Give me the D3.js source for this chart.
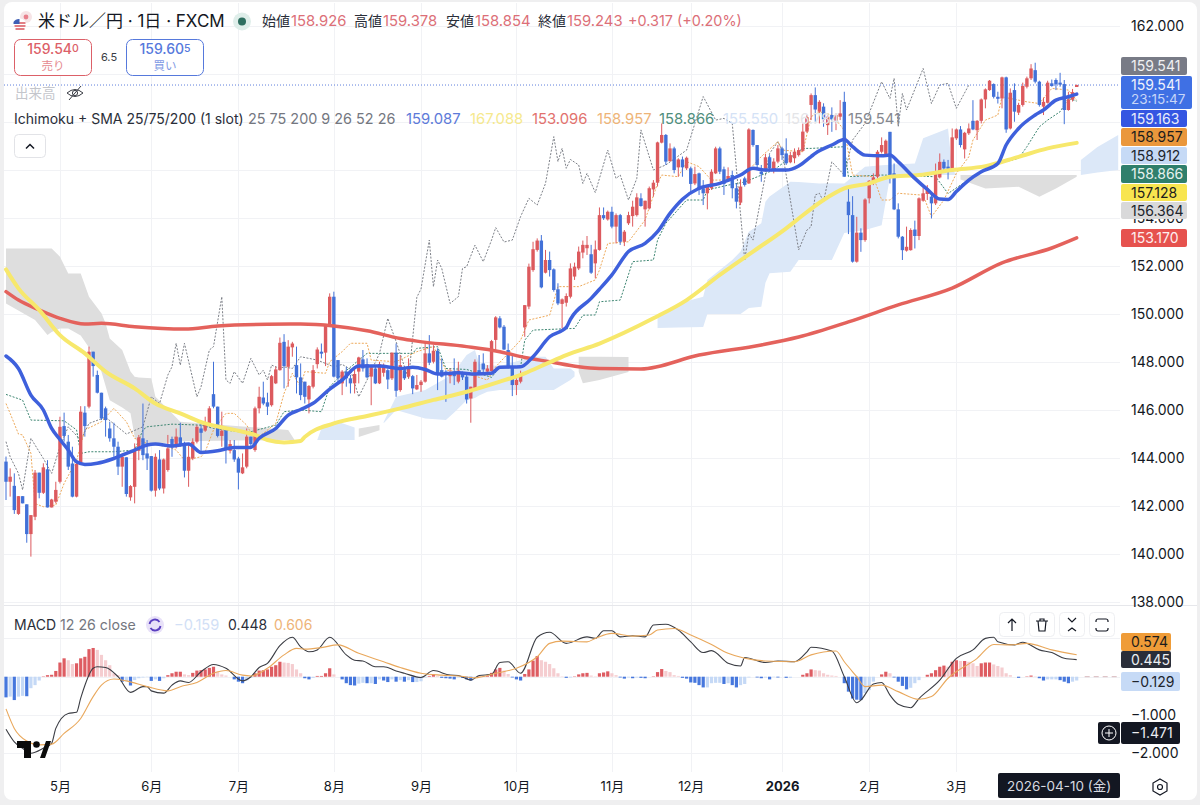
<!DOCTYPE html>
<html>
<head>
<meta charset="utf-8">
<script src="https://cdn.jsdelivr.net/npm/d3@7"></script>
<style>
  html, body { margin: 0; padding: 0; background: #efeff0; }
  svg { display: block; }
  text { font-family: Inter, "Noto Sans CJK JP", sans-serif; }
  .domain, .tick line { display: none; }
</style>
</head>
<body>
<div id="chart"></div>
<script>
// daily candles (bar 0 = mid April 2025)
const opens = [
  143.85,143.01,142.84,141.67,142.41,142.07,140.83,141.55,143.39,142.55,
  143.53,141.94,142.18,143.01,145.33,144.68,143.77,142.39,143.8,145.89,
  146.14,148.43,147.46,146.72,146.07,145.23,144.82,144.47,143.64,144.03,
  142.36,142.8,144.3,144.82,144.19,144.08,142.64,143.94,142.73,143.5,
  144.79,144.47,144.86,144.61,143.47,143.98,144.68,145.23,145.14,145.37,
  146.66,146.14,144.92,145.19,144.3,144.33,143.98,143.36,143.64,144.89,
  144.33,146.07,146.52,146.32,146.2,147.11,147.66,148.84,147.8,148.61,
  147.87,147.36,147.18,146.44,146.97,147.91,148.43,148.39,149.54,150.72,
  148.08,147.11,147.6,147.32,147.11,147.6,148.11,147.91,147.39,147.73,
  147.11,147.55,147.66,147.32,148.39,146.83,147.66,147.39,147.41,146.86,
  147.04,147.18,148.36,148.01,148.47,147.66,147.6,147.41,147.6,147.18,
  147.55,147.39,146.48,146.9,147.66,147.94,147.6,147.62,148.92,149.82,
  149.47,148.5,147.83,147.04,147.18,149.44,150.31,151.83,152.67,153.06,
  151.72,152.25,151.86,151.03,150.42,150.47,150.72,151.56,151.9,152.56,
  152.74,152.49,152.11,152.67,154.12,153.94,154.26,153.64,154.12,153.01,
  153.78,154.08,154.12,154.82,154.36,154.4,155.19,155.47,157.14,157.46,
  156.37,156.9,156.11,156.44,156.07,156.07,155.44,155.86,155.24,155.03,
  155.24,155.86,156.9,156.03,155.58,155.79,155.24,154.64,155.65,155.44,
  157.67,157.04,155.93,155.97,156.53,156,156.35,156.9,156.69,156.32,
  156.49,156.62,156.8,157.6,158.71,159.12,158.43,158.64,157.87,158.29,
  158.05,158.22,158.84,154.68,154.12,152.18,153.39,153.08,154.82,155.55,
  155.72,156.76,156.67,157.59,155.86,154.36,153.22,152.64,152.66,153.52,
  153.25,154.72,155,154.89,154.61,155.69,156.34,156.14,155.97,157.32,
  157.69,156.86,157.53,158.05,157.66,158.05,158.94,159.33,159.58,159.05,
  158.98,159.86,157.73,159.33,158.39,158.71,159.47,159.82,160.16,159.68,
  158.64,158.8,159.61,159.75,159.64,159.58,158.5,158.926,159.54
];
const highs = [
  144.06,143.57,143.36,142.41,142.41,142.07,141.62,143.5,143.39,143.78,
  143.91,142.3,143.01,145.72,145.89,144.96,144.47,143.91,146.16,146.16,
  148.64,148.43,147.64,146.72,146.14,145.51,145.47,144.68,144.19,144.03,
  142.87,144.61,144.96,146.27,144.75,144.08,144.19,144.33,143.98,144.96,
  144.89,145.23,145.47,144.68,144.58,144.82,145.37,145.41,145.72,146.16,
  148.01,146.14,145.93,145.23,144.75,144.75,144.05,144.19,145.23,144.89,
  146.14,146.97,147.18,146.72,147.46,147.8,149.02,149.16,148.91,148.84,
  148.64,147.94,147.18,147.04,147.87,148.61,148.77,149.58,150.86,150.93,
  148.08,147.66,147.8,147.46,147.78,148.22,148.5,148.15,147.87,147.8,
  148.01,147.94,147.73,148.39,148.77,148.29,147.8,148.15,147.46,147.46,
  147.25,148.84,149.12,148.7,148.57,148.15,147.66,147.73,148.15,148.01,
  147.6,147.46,146.97,148.11,148.29,148.36,147.87,148.92,149.91,149.91,
  149.54,148.77,148.29,147.46,147.64,150.37,152.1,153.01,153.15,153.29,
  152.67,152.6,151.9,151.28,150.65,150.86,152.11,152.14,152.81,153.06,
  153.25,152.88,153.06,154.44,154.44,154.31,154.47,154.19,154.17,153.5,
  154.26,154.72,155.03,155.03,154.72,155.31,155.58,157.18,157.94,157.5,
  157.11,156.97,156.49,156.56,156.56,156.14,156.14,155.89,155.58,155.38,
  156.03,156.97,156.97,156.14,156.11,155.97,155.44,155.61,155.72,157.74,
  157.69,157.04,156.21,156.67,156.62,156.49,157.04,156.97,157.32,156.76,
  156.9,156.94,157.94,158.3,159.19,159.44,158.91,158.78,158.29,158.61,
  158.36,158.91,159.26,155.3,154.91,154.05,153.57,154.82,155.58,155.86,
  156.83,157.36,157.27,157.59,156.27,154.61,153.25,153.64,153.57,153.89,
  154.86,155.27,155.37,154.96,156.27,156.69,156.44,156.42,157.73,157.73,
  157.83,157.59,157.94,158.91,158.08,158.98,159.4,159.75,159.61,159.26,
  159.89,159.89,159.4,159.61,158.8,159.64,159.89,160.41,160.47,159.72,
  159.02,159.72,159.77,159.82,160.05,159.75,159.26,159.378,159.56
];
const lows = [
  142.25,142.39,141.67,141.63,142.11,140.47,139.89,141.41,142.32,142.5,
  141.94,141.94,142.11,142.94,144.68,143.5,142.36,142.36,143.75,144.89,
  146.07,147.39,146.69,145.58,144.89,144.68,144.05,143.29,142.8,142.39,
  142.22,142.11,143.91,143.91,143.5,142.6,142.39,142.66,142.52,143.43,
  144.05,144.4,144.47,143.19,142.8,143.91,144.61,144.26,145.09,145.3,
  146.07,144.86,144.47,143.77,144.19,143.84,142.69,143.33,143.57,144.4,
  144.26,145.86,146.2,145.79,146.14,147.08,147.64,146.9,146.97,148.22,
  146.69,146.41,146.27,145.86,146.9,147.73,148.15,147.83,149.47,147.36,
  147.11,146.62,146.97,146.69,146.69,147.11,147.6,147.32,146.2,147.08,
  147.08,147.39,146.87,147.25,146.55,146.76,147.25,147.32,146.66,146.83,
  146.76,147.14,147.87,147.94,146.83,147.36,146.34,147.11,147.04,147.11,
  147.25,146.27,145.47,146.83,147.5,147.5,147.53,147.6,148.5,149.4,
  148.5,147.73,146.58,146.62,147.11,149.05,150.2,151.76,152.6,151.07,
  151.69,151.56,150.93,150.37,149.4,150.31,150.65,151.42,151.83,152.32,
  152.46,151.67,151.49,152.64,153.92,153.89,153.57,152.94,152.88,152.83,
  153.71,153.64,154.06,154.47,153.64,154.36,154.89,155.31,157.11,156.21,
  156.35,155.86,155.72,155.72,156,155.03,155.37,154.96,154.54,154.36,
  155.17,155.83,155.83,154.96,155.51,154.82,154.4,154.54,155.31,155.42,
  156.97,156.07,155.51,155.93,155.97,155.86,156.28,156.42,156.21,156.28,
  156.28,156.56,156.76,157.55,158.08,158.01,157.94,157.8,157.46,157.59,
  157.66,158.08,155.72,153.33,152.14,152.14,152.59,153.01,154.61,155.37,
  155.65,156.69,156.62,155.44,154.33,153.15,152.25,152.6,152.64,152.73,
  153.08,154.68,154.75,153.98,154.54,155.65,156,155.61,155.93,157.25,
  156.94,156.48,157.46,157.66,157.25,157.94,158.57,159.3,158.98,158.77,
  158.57,157.55,157.69,158.01,158.29,158.64,159.4,159.75,159.61,158.64,
  158.29,158.77,159.47,159.33,159.47,157.91,158.47,158.854,159.52
];
const closes = [
  143.01,143.22,141.83,142.41,142.11,140.83,141.62,143.39,142.55,143.61,
  141.94,142.27,142.67,145.3,144.92,143.64,142.39,143.75,145.93,145.33,
  148.43,147.83,146.72,145.65,145.58,144.82,144.47,143.64,144.05,142.5,
  142.83,144.33,144.86,144.12,143.98,142.64,144.05,142.73,143.94,144.4,
  144.44,144.89,144.58,143.47,144.05,144.68,145.3,145.05,145.47,146.07,
  146.14,144.92,145.14,144.36,144.58,143.94,143.39,143.61,144.89,144.58,
  146.07,146.55,146.27,146.14,147.41,147.69,148.8,147.83,148.64,148.77,
  147.36,146.62,146.55,147,147.66,148.52,148.36,149.58,150.72,147.39,
  147.32,147.6,147.32,147.11,147.5,148.19,147.73,147.36,147.78,147.11,
  147.91,147.8,147.27,148.39,146.8,147.87,147.32,147.8,146.9,147.04,
  147.18,148.36,147.97,148.47,147.53,147.39,147.46,147.5,147.41,147.64,
  147.36,146.44,146.97,148.01,147.53,147.69,147.73,148.87,149.86,149.44,
  148.52,147.83,147.04,147.25,147.46,150.37,151.97,152.7,153.06,151.11,
  152.25,151.83,151,150.44,150.61,150.75,151.9,151.97,152.6,152.88,
  152.88,151.72,152.69,154.12,153.99,154.26,153.64,154.12,153.01,153.43,
  154.12,154.47,154.86,154.5,154.72,155.24,155.47,157.15,157.46,156.35,
  156.9,156,156.44,156.11,156.51,155.42,155.83,155.17,155.03,155.31,
  155.93,156.9,155.93,155.42,155.75,155.24,154.68,155.31,155.38,157.69,
  157.04,156.21,155.83,156.53,156.07,156.35,156.9,156.62,156.28,156.62,
  156.76,156.83,157.6,158.2,159.12,158.52,158.84,158.11,158.22,158.11,
  158.29,158.36,155.72,154.12,152.18,153.39,153.08,154.77,155.55,155.69,
  156.76,157.04,157.22,155.79,154.36,153.22,152.66,152.8,153.5,153.25,
  154.82,155.03,155.23,154.61,155.86,156.34,156.07,156.07,157.36,157.69,
  157.04,157.55,157.73,157.69,158.05,158.94,159.36,159.72,159.05,158.98,
  159.86,157.69,159.22,158.43,158.71,159.5,159.82,160.23,159.68,158.71,
  158.84,159.64,159.5,159.57,159.58,158.5,158.94,159.243,159.541
];

// SMA lines, read at the bars where they bend
const sma25Bars = [0,3,6,9,11,13,15,17,19,22,26,31,34,36,40,44,47,51,55,59,61,65,68,71,74,78,81,85,90,95,98,101,104,109,113,117,119,124,127,131,135,136,141,143,146,150,154,157,160,163,167,172,177,180,183,188,191,194,195,199,202,204,207,211,213,215,219,222,225,227,229,232,235,239,241,244,248,250,253,256,258];
const sma25 = [148.25,147.73,146.62,146,145.23,144.77,144.33,143.84,143.73,143.78,143.98,144.33,144.54,144.58,144.5,144.58,144.23,144.3,144.44,144.44,144.82,145.23,145.79,146.02,146.28,146.87,147.25,147.83,147.83,147.73,147.78,147.69,147.5,147.55,147.5,147.53,147.78,147.8,148.22,149.05,149.44,149.78,150.65,151.03,151.63,152.6,152.94,153.43,154.19,154.78,155.24,155.44,155.79,156.07,156,156,156.17,156.56,156.69,157.04,157.27,156.97,156.62,156.59,156.62,156.34,155.65,155.19,154.79,154.77,155.1,155.58,155.93,156.27,157.04,157.73,158.29,158.5,158.91,159.05,159.16];
const sma75Bars = [0,3,8,13,19,24,31,36,42,48,55,60,63,67,71,72,79,87,95,103,111,119,125,130,135,143,156,164,172,180,188,191,197,202,208,213,220,228,236,244,251,258];
const sma75 = [151.86,151.07,150.17,149.12,148.36,147.6,146.9,146.27,145.86,145.44,145.17,144.96,144.75,144.65,144.71,144.88,145.44,145.75,146.07,146.42,146.76,147.18,147.53,147.91,148.29,148.77,149.82,150.58,151.63,152.6,153.57,153.98,154.75,155.23,155.44,155.72,155.79,156,156.16,156.55,156.9,157.13];
const sma200Bars = [0,3,8,13,19,23,31,43,51,63,71,79,87,95,99,111,119,125,131,138,143,153,167,182,191,203,215,228,240,252,258];
const sma200 = [150.93,150.58,150.17,149.82,149.58,149.61,149.47,149.37,149.5,149.57,149.58,149.5,149.3,148.98,148.87,148.64,148.43,148.19,148.01,147.8,147.73,147.71,148.29,148.71,149.04,149.67,150.38,151.08,152.13,152.75,153.17];

// Ichimoku thin lines
const tenkanBars = [0,1,3,4,6,7,9,12,14,17,19,23,26,29,31,34,39,41,43,47,48,50,53,55,58,60,65,67,69,71,72,77,78,81,83,87,88,94,99,103,106,111,116,118,124,126,131,133,138,142,143,145,150,154,157,158,162,164,167,170,175,179,182,186,187,192,194,196,199,202,204,209,211,213,215,221,223,226,229,232,233,236,239,240,246,249,252,256,258];
const tenkan = [146.27,145.86,145,144.96,144.2,142.1,141.97,142.04,142.94,143.9,145.17,145.51,146.07,145.51,144.82,144.61,144.47,144.33,143.91,144.05,144.26,145.17,145.86,145.86,145.37,144.75,145.44,146.69,147.53,146.97,147.6,147.53,148.01,148.43,148.78,148.78,148.08,148.01,148.43,148.64,147.67,147.53,147.25,147.8,148.91,149.75,149.95,151.14,151.14,151.42,151.83,152.94,153.01,153.92,155.44,155.79,155.72,156.35,156.14,155.58,155.58,156,156.56,157.18,156.83,156.76,158.22,158.43,158.29,157.66,155.79,155.72,154.75,154.75,155.03,154.95,154.05,154.75,155.86,156.55,157.25,158.08,158.29,159.05,158.84,158.77,159.4,159.33,158.91];
const kijunBars = [0,4,6,14,17,18,20,26,31,33,34,40,47,50,58,65,67,71,76,78,81,87,98,99,104,106,111,117,119,124,125,127,137,139,142,143,148,151,156,157,159,164,168,169,174,178,185,192,194,202,203,211,224,227,233,239,244,246,249,251,254,256,258];
const kijun = [146.65,146.41,145.58,145.55,145.17,144.19,144.26,144.26,144.33,145.17,145.3,145.41,145.37,145.23,145.05,145.37,145.93,146,145.93,146.97,147.5,148.36,148.36,148.57,148.64,147.73,147.69,147.36,147.8,147.8,148.91,149.33,149.4,149.95,149.96,150.51,150.58,152.18,152.25,153.08,153.78,154.75,154.75,155.17,155.37,155.5,156,156.9,156.9,156.97,155.72,155.79,155.72,155.02,155.72,156.27,156.48,156.97,157.8,158.08,158.43,158.98,158.87];
const chikouBars = [0,1,3,4,6,9,11,13,15,18,20,24,29,33,35,37,39,40,41,42,43,46,47,49,50,52,53,54,55,57,59,61,62,63,64,66,67,69,71,75,79,81,83,85,87,90,92,94,97,99,100,102,103,104,105,107,109,110,111,113,115,117,118,120,122,124,126,128,130,132,133,134,135,136,138,139,140,142,145,147,148,150,152,153,156,159,164,166,168,171,173,175,178,179,180,184,186,187,191,193,194,195,196,197,199,202,204,207,211,213,214,215,216,217,221,223,225,227,229,232];
const chikou = [144.68,144.05,143.36,142.67,144.82,143.98,143.36,144.47,145.3,144.75,145.44,145.7,145,145.3,146.55,146.27,147.46,147.8,148.78,147.87,148.78,146.55,146.97,148.5,148.64,150.72,147.25,147.11,147.6,147.11,148.15,147.46,147.66,147.25,147.87,147.73,147.8,147.73,148.22,148.08,147.8,147.9,147.7,146.55,147.25,148.36,149.82,148.85,147.3,150.7,151.04,153.08,151.14,152.25,151.9,150.44,150.72,151.9,151.97,152.87,152.18,153.08,153.6,153,153.08,154.06,154.82,154.54,155.44,157.39,156.35,156.9,156.07,156.44,156.21,155.44,155.86,155.06,156.83,155.65,155.79,154.75,155.65,157.67,156,156.21,156.83,157.94,159.06,158.08,158.15,157.94,152.25,153.36,153.08,156.69,157.18,156.83,152.67,153.5,153.64,154.96,155.03,154.68,156.34,155.79,157.25,157.94,159.68,158.98,159.82,157.8,159.19,158.5,160.23,158.77,159.54,159.61,158.57,159.54];

// cloud, shifted 26 bars ahead, so it runs past the last candle
const kumoBars = [0,7,10,11,13,15,18,20,23,24,25,28,30,31,32,35,36,40,42,68,70,75,76,80,84,85,90,91,94,101,106,108,111,113,114,116,119,127,130,132,136,137,138,139,143,150,157,162,168,169,175,177,179,182,183,184,189,191,196,199,202,207,211,213,219,221,227,228,229,230,236,244,249,253,258,259,263,268];
const senkouA = [150.44,149.75,149.12,149.25,149.4,149.4,149.1,148.6,147.59,147,146.41,146.1,145.86,144.89,144.54,144.6,144.6,144.65,144.7,144.75,144.61,144.75,145.23,145.51,145.27,144.88,145.16,145.5,146.55,146.83,147.32,147.59,148.29,148.5,147.94,147.87,147.83,148.22,148.22,147.73,147.73,147.59,147.59,147.11,147.25,147.58,149.89,150.44,150.72,151.42,152.25,152.6,153.43,153.78,154.68,154.9,155.51,155.5,155.44,155.45,155.44,156.14,156.2,156.22,156.27,157.32,157.73,156,155.82,155.6,155.23,155.3,154.89,155.23,155.72,156.42,156.96,157.46];
const senkouB = [152.73,152.73,152.73,152.73,152.39,151.69,151.69,150.72,150.03,149.61,148.98,148.5,147.6,147.39,147.35,147.32,146.55,145.86,145.51,145.17,144.62,144.75,144.75,144.75,144.75,145.23,145.37,145.45,146,145.65,145.58,145.9,146.41,146.5,146.6,146.76,146.83,146.83,146.83,146.83,147.25,147.4,148.22,148.22,148.22,148.21,149.42,149.44,149.46,150,150,150,150.25,150.3,151.3,151.7,151.76,152.25,152.25,152.25,153.37,153.5,153.7,155.72,155.79,155.79,155.79,155.79,155.79,155.79,155.79,155.79,155.79,155.79,155.79,155.79,155.9,156];

// MACD pane
const macdHist = [
  -0.54,-0.52,-0.61,-0.52,-0.5,-0.51,-0.3,-0.22,-0.1,0.01,
  0.04,0.05,0.15,0.37,0.48,0.43,0.33,0.35,0.48,0.52,
  0.72,0.75,0.7,0.57,0.43,0.3,0.09,0.04,-0.13,-0.12,
  -0.23,-0.09,-0.04,-0.02,-0.01,-0.11,-0.07,-0.11,-0.04,0.04,
  0.09,0.13,0.13,0.06,0.04,0.1,0.16,0.17,0.19,0.23,
  0.26,0.13,0.06,0.03,0,-0.07,-0.13,-0.17,-0.1,-0.03,
  0.09,0.16,0.17,0.19,0.26,0.3,0.39,0.37,0.36,0.33,
  0.19,0.09,-0.04,-0.07,-0.03,0.02,0.02,0.09,0.22,0.06,
  0,-0.07,-0.17,-0.22,-0.23,-0.18,-0.16,-0.17,-0.17,-0.19,
  -0.07,-0.1,-0.14,-0.07,-0.13,-0.09,-0.13,-0.09,-0.14,-0.14,
  -0.12,-0.02,0.02,0.06,0.02,-0.03,-0.04,-0.05,-0.07,-0.02,
  -0.03,-0.07,-0.1,-0.02,0.01,0.01,0.02,0.1,0.19,0.23,
  0.16,0.07,-0.02,-0.07,-0.1,0.07,0.19,0.42,0.54,0.43,
  0.39,0.33,0.22,0.09,0.01,-0.03,-0.02,0.01,0.06,0.09,
  0.1,0.03,0.01,0.09,0.11,0.14,0.09,0.04,-0.02,-0.05,
  -0.02,-0.04,-0.02,-0.03,-0.04,0,0.01,0.12,0.2,0.15,
  0.12,0.04,0.02,-0.03,-0.05,-0.15,-0.16,-0.22,-0.28,-0.28,
  -0.17,-0.16,-0.16,-0.19,-0.17,-0.22,-0.28,-0.22,-0.19,-0.02,
  0,-0.02,-0.04,-0.02,-0.07,-0.01,-0.02,0,-0.03,-0.03,
  0,0,0.05,0.09,0.19,0.17,0.16,0.09,0.05,0.03,
  0.02,0,-0.17,-0.39,-0.57,-0.6,-0.61,-0.43,-0.35,-0.13,
  0,0.06,0.13,0.09,-0.02,-0.13,-0.24,-0.33,-0.29,-0.17,
  -0.09,0,0.05,0.09,0.17,0.26,0.29,0.26,0.39,0.43,
  0.41,0.41,0.39,0.35,0.28,0.35,0.37,0.37,0.32,0.28,
  0.24,0.09,0.04,0,-0.03,0,0.01,0.03,0.01,-0.04,
  -0.1,-0.07,-0.07,-0.07,-0.09,-0.13,-0.17,-0.13,-0.1
];
const macdBars = [0,2,4,6,9,11,12,15,17,18,21,22,24,27,30,33,34,35,38,40,42,44,47,50,53,57,59,61,63,66,69,71,73,75,78,82,84,86,89,91,94,96,100,103,107,109,112,114,117,119,121,124,128,131,135,140,142,144,146,148,151,154,156,159,162,165,168,170,174,177,178,183,186,190,193,194,199,202,205,206,209,211,213,215,218,220,225,229,233,236,238,239,243,245,249,252,255,258];
const macdLine = [-1.37,-1.7,-1.87,-2,-1.87,-1.74,-1.35,-0.96,-0.93,-0.56,0.22,0.26,0.24,0,-0.41,-0.26,-0.26,-0.37,-0.43,-0.22,-0.11,-0.15,0.13,0.32,0.22,-0.11,0,0.24,0.35,0.81,1.03,0.78,0.65,0.7,1.03,0.57,0.43,0.41,0.26,0.26,0.15,0.09,-0.02,0.16,0.04,0.03,-0.09,0.03,0.06,0.37,0.39,0.09,1.03,1.16,0.87,1.04,1,1.2,1.2,1.04,1.07,1.04,1.35,1.37,1.22,0.91,0.63,0.68,0.35,0.28,0.5,0.37,0.41,0.39,0.65,0.77,0.67,0,-0.68,-0.61,-0.19,-0.15,-0.48,-0.72,-0.81,-0.57,-0.09,0.48,0.7,1,1.03,0.91,0.83,0.9,0.7,0.63,0.48,0.445];
const signalBars = [0,2,5,8,11,14,18,21,23,26,29,34,39,42,46,50,53,57,59,63,67,70,72,76,80,85,91,95,100,105,109,113,118,123,128,131,134,140,142,146,151,155,157,161,165,170,174,178,183,190,194,200,202,205,207,211,215,220,223,227,234,238,242,246,252,258];
const signalLine = [-0.84,-1.35,-1.68,-1.78,-1.76,-1.48,-1.09,-0.52,-0.22,-0.06,-0.11,-0.26,-0.37,-0.26,-0.15,0.09,0.16,0.04,0.02,0.22,0.57,0.74,0.72,0.76,0.83,0.61,0.39,0.24,0.09,0.04,0.02,-0.03,0.09,0.22,0.52,0.87,0.93,0.91,1,1.13,1.06,1.09,1.22,1.26,1.09,0.84,0.61,0.48,0.41,0.39,0.57,0.67,0.39,0,-0.26,-0.22,-0.39,-0.59,-0.52,-0.04,0.48,0.84,0.83,0.87,0.7,0.574];

// axis labels, 156 to 160 are covered by the tags in the picture
const gridTicks = [162,160,158,156,154,152,150,148,146,144,142,140,138];
const priceTicks = [162,154,152,150,148,146,144,142,140,138];
const macdTicks = [-1,-2];
const monthBars = [13,35,56,79,100,123,146,165,187,208,229];
const monthLabels = ["5月","6月","7月","8月","9月","10月","11月","12月","2026","2月","3月"];

// header and legend texts
const ohlcNames = ["始値","高値","安値","終値"];
const ohlcValues = ["158.926","159.378","158.854","159.243"];
const legendValues = ["159.087","167.088","153.096","158.957","158.866","155.550","156.784","159.541"];

const width = 1200, height = 805;
const chartLeft = 4, chartRight = 1120, paneBottom = 605, timeTop = 772;

const svg = d3.select("#chart").append("svg").attr("width", width).attr("height", height);

const x = d3.scaleLinear().domain([0, 258]).range([6, 1076.7]);
const y = d3.scaleLinear().domain([138, 162]).range([602, 26]);
const yMacd = d3.scaleLinear().domain([-2, 1]).range([753.3, 638.4]);

svg.append("rect").attr("x", chartLeft).attr("y", 2).attr("width", 1193).attr("height", 798).attr("rx", 8).attr("fill", "#fff");

// grid
const gridColor = "#f1f2f5";
const grid = svg.append("g").attr("stroke", gridColor).attr("stroke-width", 1);
grid.selectAll(".v").data(monthBars).join("line")
  .attr("x1", d => Math.round(x(d)) + 0.5).attr("x2", d => Math.round(x(d)) + 0.5)
  .attr("y1", 3).attr("y2", timeTop);
grid.selectAll(".h").data(gridTicks).join("line")
  .attr("x1", chartLeft).attr("x2", chartRight)
  .attr("y1", d => Math.round(y(d)) + 0.5).attr("y2", d => Math.round(y(d)) + 0.5);
grid.selectAll(".m").data([1, 0, -1, -2]).join("line")
  .attr("x1", chartLeft).attr("x2", chartRight)
  .attr("y1", d => Math.round(yMacd(d)) + 0.5).attr("y2", d => Math.round(yMacd(d)) + 0.5);
svg.append("line").attr("x1", chartLeft).attr("x2", 1197).attr("y1", paneBottom + 0.5).attr("y2", paneBottom + 0.5)
  .attr("stroke", "#e6e7eb");

// cloud: blue where A is above B, grey where it is below
const kumo = kumoBars.map((b, i) => ({ bar: b, a: senkouA[i], b2: senkouB[i] }));
const cloudArea = (keep) => d3.area()
  .defined(keep)
  .x(d => x(d.bar)).y0(d => y(d.a)).y1(d => y(d.b2));
svg.append("path").attr("d", cloudArea(d => d.a >= d.b2)(kumo)).attr("fill", "#dce8f8");
svg.append("path").attr("d", cloudArea(d => d.a < d.b2)(kumo)).attr("fill", "#dedede");

// thin ichimoku lines
const thinLine = (bars, vals, color, dash) => {
  const line = d3.line().x(d => x(bars[d])).y(d => y(vals[d]));
  svg.append("path").attr("d", line(d3.range(bars.length)))
    .attr("fill", "none").attr("stroke", color).attr("stroke-width", 1).attr("stroke-dasharray", dash);
};
thinLine(chikouBars, chikou, "#7c7f87", "2 1.5");
thinLine(kijunBars, kijun, "#3e8672", "2 1.5");
thinLine(tenkanBars, tenkan, "#eda95a", "2 1.5");

// current price line
svg.append("line").attr("x1", chartLeft).attr("x2", chartRight)
  .attr("y1", y(159.541)).attr("y2", y(159.541))
  .attr("stroke", "#5d7fdc").attr("stroke-width", 1).attr("stroke-dasharray", "1 2");

// candles
const upColor = "#dc5a5e", downColor = "#4271d8";
const candles = svg.append("g");
const barIdx = d3.range(closes.length);
candles.selectAll(".wick").data(barIdx).join("line")
  .attr("x1", d => x(d)).attr("x2", d => x(d))
  .attr("y1", d => y(highs[d])).attr("y2", d => y(lows[d]))
  .attr("stroke", d => closes[d] >= opens[d] ? upColor : downColor).attr("stroke-width", 1);
candles.selectAll(".body").data(barIdx).join("rect")
  .attr("x", d => x(d) - 1.7).attr("width", 3.4)
  .attr("y", d => y(Math.max(opens[d], closes[d])))
  .attr("height", d => Math.max(2, Math.abs(y(opens[d]) - y(closes[d]))))
  .attr("fill", d => closes[d] >= opens[d] ? upColor : downColor);

// SMA lines over the candles
const smaLine = (bars, vals, color, w) => {
  const line = d3.line().x(d => x(bars[d])).y(d => y(vals[d])).curve(d3.curveMonotoneX);
  svg.append("path").attr("d", line(d3.range(bars.length)))
    .attr("fill", "none").attr("stroke", color).attr("stroke-width", w).attr("stroke-linecap", "round");
};
smaLine(sma200Bars, sma200, "#e4625c", 3.5);
smaLine(sma75Bars, sma75, "#f7e86c", 4);
smaLine(sma25Bars, sma25, "#3e60dc", 3.5);

// MACD histogram: dark when it is growing, light when it shrinks
const histColor = (v, i) => {
  const prev = i > 0 ? macdHist[i - 1] : 0;
  if (v >= 0) return v >= prev ? "#de5c62" : "#f5cdd0";
  return v < prev ? "#4677dd" : "#c5d9f6";
};
svg.append("g").selectAll("rect").data(macdHist).join("rect")
  .attr("x", (d, i) => x(i) - 1.6).attr("width", 3.2)
  .attr("y", d => Math.min(yMacd(d), yMacd(0)))
  .attr("height", d => Math.abs(yMacd(d) - yMacd(0)))
  .attr("fill", histColor);
svg.append("line").attr("x1", x(258) + 8).attr("x2", chartRight).attr("y1", yMacd(0)).attr("y2", yMacd(0))
  .attr("stroke", "#d8b8bc").attr("stroke-width", 1).attr("stroke-dasharray", "5 4");

const macdPath = (bars, vals, color) => {
  const line = d3.line().x(d => x(bars[d])).y(d => yMacd(vals[d])).curve(d3.curveMonotoneX);
  svg.append("path").attr("d", line(d3.range(bars.length)))
    .attr("fill", "none").attr("stroke", color).attr("stroke-width", 1.1);
};
macdPath(macdBars, macdLine, "#3b3d44");
macdPath(signalBars, signalLine, "#e9a85c");

// price axis
svg.append("g").attr("transform", "translate(1131,0)")
  .call(d3.axisRight(y).tickValues(priceTicks).tickFormat(d3.format(".3f")).tickSize(0).tickPadding(0))
  .call(g => g.selectAll("text").attr("font-size", 14).attr("fill", "#131722").attr("font-family", null));
svg.append("g").attr("transform", "translate(1131,0)")
  .call(d3.axisRight(yMacd).tickValues(macdTicks).tickFormat(d => d3.format(".3f")(d).replace("-", "−")).tickSize(0).tickPadding(0))
  .call(g => g.selectAll("text").attr("font-size", 14).attr("fill", "#131722").attr("font-family", null));

// time axis
svg.append("g").attr("transform", "translate(0,782)")
  .call(d3.axisBottom(x).tickValues(monthBars).tickFormat((d, i) => monthLabels[i]).tickSize(0).tickPadding(0))
  .call(g => g.selectAll("text").attr("font-size", 13).attr("fill", "#131722").attr("font-family", null)
    .attr("font-weight", (d, i) => monthLabels[i] === "2026" ? 700 : 400));

// tags on the price scale
const tag = (top, h, left, w, color, label, textColor) => {
  svg.append("rect").attr("x", left).attr("y", top).attr("width", w).attr("height", h).attr("rx", 2).attr("fill", color);
  if (label) svg.append("text").attr("x", left + 10).attr("y", top + h / 2 + 5).attr("font-size", 14)
    .attr("fill", textColor).text(label);
};
tag(57, 18, 1121, 66, "#787b86", "159.541", "#f0f0f2");
tag(76, 33, 1121, 71, "#3f70e4", null);
svg.append("text").attr("x", 1131).attr("y", 90).attr("font-size", 14).attr("fill", "#eef2fc").text("159.541");
svg.append("text").attr("x", 1131).attr("y", 104).attr("font-size", 13.5).attr("fill", "#c7d6f8").text("23:15:47");
tag(110, 17, 1121, 66, "#3556e2", "159.163", "#e9edfb");
tag(128, 18, 1121, 66, "#ea973c", "158.957", "#1c1c1c");
tag(147, 17, 1121, 66, "#c6daf6", "158.912", "#20242c");
tag(165, 18, 1121, 66, "#2f7f6c", "158.866", "#e6f2ef");
tag(184, 17, 1121, 66, "#f8e54f", "157.128", "#1c1c1c");
tag(202, 17, 1121, 66, "#d9d9da", "156.364", "#20242c");
tag(229, 18, 1121, 66, "#e6524e", "153.170", "#fdeeee");
tag(633, 18, 1121, 50, "#ef9c38", "0.574", "#1c1c1c");
tag(651, 17, 1121, 50, "#2a2e39", "0.445", "#eceef2");
tag(672, 19, 1121, 59, "#c6daf6", "−0.129", "#20242c");
tag(722, 22, 1121, 59, "#131722", "−1.471", "#eceef2");

// plus button next to the crosshair label
svg.append("rect").attr("x", 1098).attr("y", 722).attr("width", 22).attr("height", 22).attr("rx", 2).attr("fill", "#131722");
svg.append("circle").attr("cx", 1109).attr("cy", 733).attr("r", 7).attr("fill", "none").attr("stroke", "#fff");
svg.append("path").attr("d", "M1105 733h8M1109 729v8").attr("stroke", "#fff");

// date tag
svg.append("rect").attr("x", 998).attr("y", 773).attr("width", 122).attr("height", 25).attr("rx", 2).attr("fill", "#131722");
svg.append("text").attr("x", 1059).attr("y", 790.5).attr("text-anchor", "middle").attr("font-size", 13.5)
  .attr("fill", "#d8dae0").text("2026-04-10 (金)");

// settings hexagon
svg.append("path").attr("d", "M1160 779l7 4v8l-7 4l-7-4v-8z").attr("fill", "none").attr("stroke", "#131722").attr("stroke-width", 1.2);
svg.append("circle").attr("cx", 1160).attr("cy", 787).attr("r", 2.5).attr("fill", "none").attr("stroke", "#131722").attr("stroke-width", 1.2);

// header
const flag = svg.append("g");
flag.append("circle").attr("cx", 26).attr("cy", 17).attr("r", 6).attr("fill", "#f6e4e6");
flag.append("circle").attr("cx", 26).attr("cy", 17).attr("r", 2.4).attr("fill", "#e8808c");
flag.append("circle").attr("cx", 20).attr("cy", 25).attr("r", 6.5).attr("fill", "#fff");
flag.append("path").attr("d", "M14.5 23h11M14.5 26h11M15.5 29h9").attr("stroke", "#d9565e").attr("stroke-width", 1.6);
flag.append("path").attr("d", "M13.5 24v-2a6.5 6.5 0 0 1 6-3v5z").attr("fill", "#3f5fb5");

svg.append("text").attr("x", 38).attr("y", 27).attr("font-size", 17).attr("fill", "#131722").text("米ドル／円 · 1日 · FXCM");
svg.append("circle").attr("cx", 242).attr("cy", 21.5).attr("r", 9).attr("fill", "#dfeeea");
svg.append("circle").attr("cx", 242).attr("cy", 21.5).attr("r", 4).attr("fill", "#2e6f60");

const ohlcX = [262, 354, 446, 538];
ohlcNames.forEach((name, i) => {
  svg.append("text").attr("x", ohlcX[i]).attr("y", 26).attr("font-size", 14).attr("fill", "#2a2e39").text(name);
  svg.append("text").attr("x", ohlcX[i] + 29).attr("y", 26).attr("font-size", 14.8).attr("fill", "#dc6f78").text(ohlcValues[i]);
});
svg.append("text").attr("x", 628).attr("y", 26).attr("font-size", 14.4).attr("fill", "#dc6f78").text("+0.317 (+0.20%)");

// buy / sell boxes
const tradeBox = (left, color, main, small, label, labelColor) => {
  svg.append("rect").attr("x", left + 0.5).attr("y", 39.5).attr("width", 77).attr("height", 36).attr("rx", 6)
    .attr("fill", "#fff").attr("stroke", color);
  const t = svg.append("text").attr("x", left + 39).attr("y", 54).attr("text-anchor", "middle")
    .attr("font-size", 14).attr("font-weight", 500).attr("fill", color);
  t.append("tspan").text(main);
  t.append("tspan").attr("font-size", 10.5).attr("dy", -2).text(small);
  svg.append("text").attr("x", left + 39).attr("y", 70).attr("text-anchor", "middle").attr("font-size", 11.5)
    .attr("fill", labelColor).text(label);
};
tradeBox(14, "#dc6068", "159.54", "0", "売り", "#e58a90");
svg.append("text").attr("x", 109).attr("y", 61).attr("text-anchor", "middle").attr("font-size", 11).attr("fill", "#3a3d45").text("6.5");
tradeBox(126, "#5679dc", "159.60", "5", "買い", "#7f9ae4");

svg.append("text").attr("x", 15).attr("y", 98).attr("font-size", 13.5).attr("fill", "#c4c6cc").text("出来高");
// eye-off icon
svg.append("path").attr("d", "M67 93q8-7 16 0q-8 7-16 0z").attr("fill", "none").attr("stroke", "#3a3d45");
svg.append("circle").attr("cx", 75).attr("cy", 93).attr("r", 2.6).attr("fill", "none").attr("stroke", "#3a3d45");
svg.append("path").attr("d", "M69 100l12-14").attr("stroke", "#3a3d45");

// indicator legend
svg.append("text").attr("x", 14).attr("y", 124).attr("font-size", 14).attr("fill", "#2a2e39").text("Ichimoku + SMA 25/75/200 (1 slot)");
svg.append("text").attr("x", 248).attr("y", 124).attr("font-size", 14.4).attr("fill", "#74777f").text("25 75 200 9 26 52 26");
const legendX = [406, 470, 532, 597, 659, 723, 785, 848];
const legendColors = ["#5d7ad9", "#f6e98e", "#e2716d", "#eeb478", "#4f8e7c", "#d4e2f6", "#e4e5e8", "#85878e"];
legendValues.forEach((v, i) => {
  svg.append("text").attr("x", legendX[i]).attr("y", 124).attr("font-size", 14.8).attr("fill", legendColors[i]).text(v);
});
svg.append("rect").attr("x", 14.5).attr("y", 134.5).attr("width", 31).attr("height", 23).attr("rx", 4)
  .attr("fill", "#fff").attr("stroke", "#e2e3e7");
svg.append("path").attr("d", "M26 148.5l4-4l4 4").attr("fill", "none").attr("stroke", "#131722").attr("stroke-width", 1.5);

// MACD legend
svg.append("text").attr("x", 14).attr("y", 630).attr("font-size", 14).attr("fill", "#2a2e39").text("MACD");
svg.append("text").attr("x", 60).attr("y", 630).attr("font-size", 14.2).attr("fill", "#74777f").text("12 26 close");
svg.append("circle").attr("cx", 155).attr("cy", 625).attr("r", 9).attr("fill", "#e8e1f8");
svg.append("path").attr("d", "M149.5 624a5.5 5.5 0 0 1 10-2M160.5 626a5.5 5.5 0 0 1-10 2").attr("fill", "none")
  .attr("stroke", "#5a3fc0").attr("stroke-width", 1.8);
svg.append("text").attr("x", 174).attr("y", 630).attr("font-size", 14.6).attr("fill", "#d2e0f6").text("−0.159");
svg.append("text").attr("x", 228).attr("y", 630).attr("font-size", 14).attr("fill", "#2a2e39").text("0.448");
svg.append("text").attr("x", 274).attr("y", 630).attr("font-size", 14).attr("fill", "#eeb478").text("0.606");

// pane buttons
const paneBtn = (cx, d) => {
  svg.append("rect").attr("x", cx - 12.5).attr("y", 612.5).attr("width", 25).attr("height", 24).attr("rx", 4)
    .attr("fill", "#fff").attr("stroke", "#eeeff2");
  svg.append("path").attr("d", d).attr("transform", `translate(${cx},625)`)
    .attr("fill", "none").attr("stroke", "#131722").attr("stroke-width", 1.2);
};
paneBtn(1012, "M0 6v-12M-4-2l4-4l4 4");
paneBtn(1042, "M-6-4h12M-4-4l1 10h6l1-10M-2-4v-2h4v2");
paneBtn(1072, "M-4-7l4 4l4-4M-4 6l4-3l4 3");
paneBtn(1102, "M-6-3v-1a2 2 0 0 1 2-2h8a2 2 0 0 1 2 2v1M-6 3v1a2 2 0 0 0 2 2h8a2 2 0 0 0 2-2v-1");

// watermark
svg.append("path").attr("d", "M17 741h14v17h-7v-10h-7zM40 758l6-17h5l-6 17z").attr("fill", "#0b0b0b");
svg.append("circle").attr("cx", 36.5).attr("cy", 744.5).attr("r", 3.3).attr("fill", "#0b0b0b");
</script>
</body>
</html>
